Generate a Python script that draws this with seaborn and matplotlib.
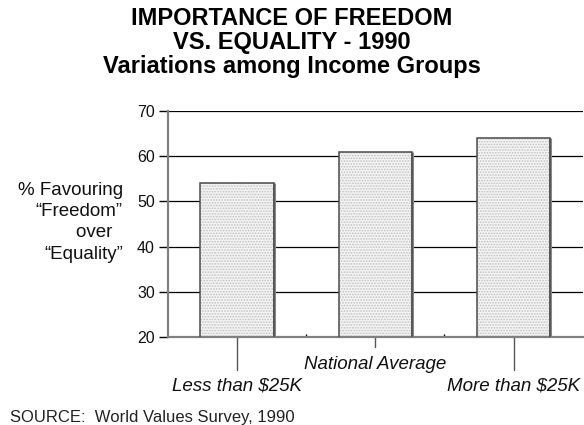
import matplotlib
matplotlib.use("Agg")
import matplotlib.pyplot as plt
import matplotlib.transforms as mtransforms
from matplotlib.patches import Rectangle
import seaborn as sns
import pandas as pd

# Data
categories = ["Less than $25K", "National Average", "More than $25K"]
values = [54, 61, 64]
yticks = [20, 30, 40, 50, 60, 70]
# which category names sit on the lower row beneath the axis
lower_row = [True, False, True]

sns.set_theme(style="white")
plt.rcParams["font.family"] = ["Liberation Sans", "DejaVu Sans"]
plt.rcParams["hatch.color"] = "#a0a0a0"
plt.rcParams["hatch.linewidth"] = 0.8

df = pd.DataFrame({"group": categories, "pct": values})

fig = plt.figure(figsize=(5.84, 4.25), dpi=100)
ax = fig.add_axes([0.2877, 0.2071, 0.71, 0.5318])

sns.barplot(data=df, x="group", y="pct", ax=ax, width=0.53,
            color="#f4f4f4", edgecolor="#c0c0c0", linewidth=0.0,
            hatch="......", zorder=2)

ax.set_xlim(-0.5, 2.5)
ax.set_ylim(20, 70)

# dark outline on each bar, with a heavier grey right edge
for p in list(ax.patches):
    x0, y0 = p.get_xy()
    w, h = p.get_width(), p.get_height()
    ax.add_patch(Rectangle((x0, y0), w, h, fill=False, edgecolor="#4a4a4a",
                           linewidth=1.1, zorder=3))
    ax.plot([x0 + w] * 2, [ax.get_ylim()[0], y0 + h],
            color="#888888", lw=2.2, zorder=2.9, solid_capstyle="butt")

ax.set_yticks(yticks)
ax.set_yticklabels([str(t) for t in yticks], fontsize=11.5, color="#111111")
ax.yaxis.grid(True, color="black", linewidth=0.9)
ax.set_axisbelow(True)

for side in ["top", "right"]:
    ax.spines[side].set_visible(False)
for side in ["left", "bottom"]:
    ax.spines[side].set_color("#808080")
    ax.spines[side].set_linewidth(1.6)

ax.tick_params(axis="y", which="major", length=6.5, width=1, color="black",
               pad=3, left=True)
ax.set_xticks([])
ax.set_xticks([0.5, 1.5], minor=True)
ax.tick_params(axis="x", which="minor", length=2, width=1, color="black",
               direction="in", bottom=True)
ax.set_xlabel("")
ax.set_ylabel("")

# drop-lines and staggered category names beneath the axis
trans = mtransforms.blended_transform_factory(ax.transData, ax.transAxes)
for i, (cat, low) in enumerate(zip(categories, lower_row)):
    end = -0.146 if low else -0.044
    ax.plot([i, i], [0, end], transform=trans, color="#555555", lw=1,
            clip_on=False)
    ax.text(i, -0.178 if low else -0.085, cat, transform=trans,
            ha="center", va="top", fontsize=13.5, style="italic",
            color="#111111")

# axis title to the left of the tick labels
fig.text(0.210, 0.477, "% Favouring\n\u201cFreedom\u201d\nover  \n\u201cEquality\u201d",
         ha="right", va="center", fontsize=13.5, linespacing=1.33,
         color="#111111")

fig.text(0.5, 0.984,
         "IMPORTANCE OF FREEDOM\nVS. EQUALITY - 1990\nVariations among Income Groups",
         ha="center", va="top", fontsize=17, fontweight="bold",
         linespacing=1.05, color="black")

fig.text(0.017, 0.008, "SOURCE:  World Values Survey, 1990",
         ha="left", va="baseline", fontsize=12, color="#222222")

fig.savefig("out.png", dpi=100, facecolor="white")
